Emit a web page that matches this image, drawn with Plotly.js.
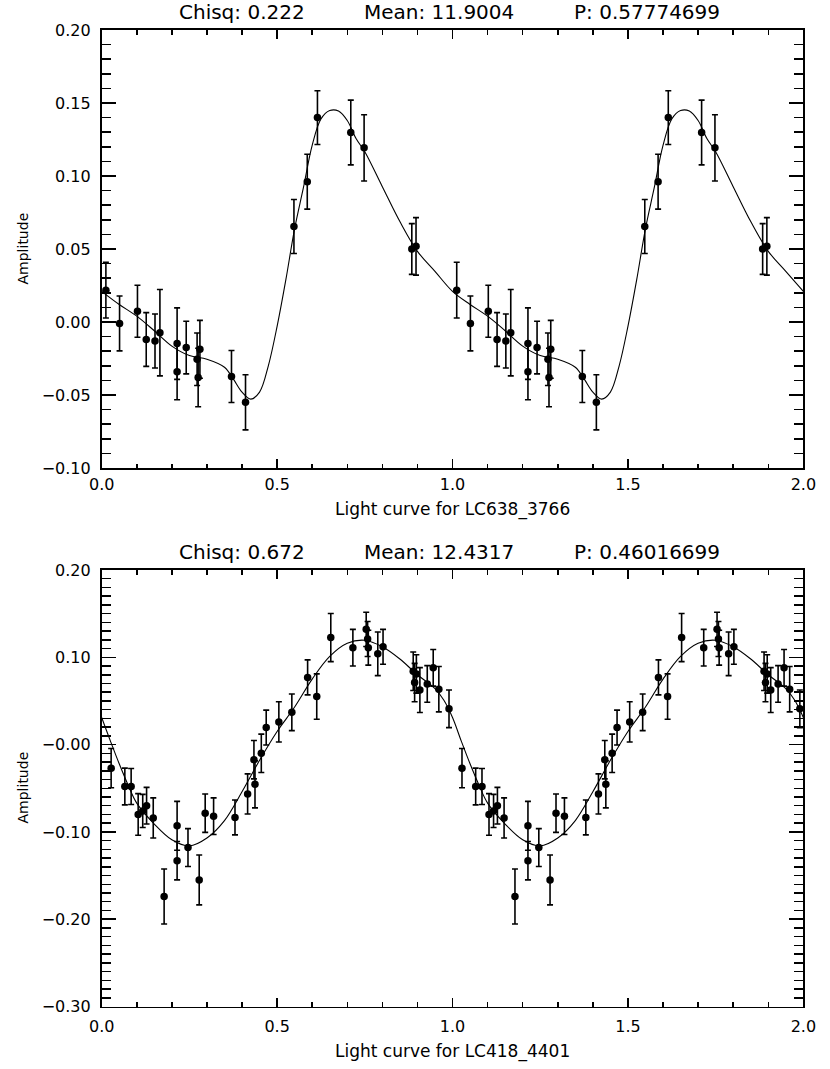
<!DOCTYPE html>
<html>
<head>
<meta charset="utf-8">
<script src="https://cdn.plot.ly/plotly-3.0.1.min.js"></script>
<style>html,body{margin:0;padding:0;background:#fff}#chart{width:830px;height:1069px}</style>
</head>
<body>
<div id="chart"></div>
<script>
// ---------- Top panel: LC638_3766 ----------
const topTitles = ["Chisq: 0.222", "Mean: 11.9004", "P: 0.57774699"];
const topXTitle = "Light curve for LC638_3766";
const topPhase = [0.012, 0.051, 0.102, 0.127, 0.152, 0.166, 0.215, 0.215, 0.241, 0.272, 0.280, 0.275, 0.370, 0.410, 0.548, 0.586, 0.615, 0.710, 0.748, 0.884, 0.896];
const topAmp   = [0.0218, -0.0010, 0.0074, -0.0120, -0.0130, -0.0073, -0.0148, -0.0340, -0.0175, -0.0255, -0.0187, -0.0380, -0.0373, -0.0550, 0.0654, 0.0961, 0.1400, 0.1298, 0.1193, 0.0500, 0.0518];
const topErr   = [0.0191, 0.0188, 0.0178, 0.0184, 0.0185, 0.0296, 0.0245, 0.0193, 0.0180, 0.0180, 0.0198, 0.0200, 0.0178, 0.0189, 0.0185, 0.0188, 0.0184, 0.0222, 0.0227, 0.0174, 0.0197];
const topFitX  = [0, 0.05, 0.1, 0.15, 0.2, 0.25, 0.3, 0.35, 0.375, 0.4, 0.425, 0.45, 0.475, 0.5, 0.525, 0.55, 0.575, 0.6, 0.625, 0.65, 0.675, 0.7, 0.725, 0.75, 0.8, 0.85, 0.9, 0.95, 1.0];
const topFitY  = [0.021, 0.012, 0.004, -0.006, -0.0165, -0.023, -0.0255, -0.031, -0.039, -0.048, -0.0528, -0.048, -0.030, -0.003, 0.029, 0.064, 0.092, 0.121, 0.139, 0.1448, 0.1445, 0.138, 0.1257, 0.1166, 0.0927, 0.0688, 0.0484, 0.0347, 0.021];
const topYTicks = [0.20, 0.15, 0.10, 0.05, 0.00, -0.05, -0.10];
const topYText  = ["0.20", "0.15", "0.10", "0.05", "0.00", "\u22120.05", "\u22120.10"];

// ---------- Bottom panel: LC418_4401 ----------
const botTitles = ["Chisq: 0.672", "Mean: 12.4317", "P: 0.46016699"];
const botXTitle = "Light curve for LC418_4401";
const botPhase = [0.027, 0.066, 0.084, 0.104, 0.117, 0.128, 0.147, 0.178, 0.215, 0.215, 0.246, 0.278, 0.295, 0.319, 0.380, 0.416, 0.434, 0.437, 0.455, 0.469, 0.505, 0.542, 0.587, 0.613, 0.653, 0.716, 0.754, 0.758, 0.760, 0.787, 0.802, 0.888, 0.892, 0.897, 0.907, 0.928, 0.945, 0.961, 0.990];
const botAmp   = [-0.027, -0.048, -0.048, -0.080, -0.076, -0.070, -0.084, -0.174, -0.093, -0.133, -0.118, -0.155, -0.0786, -0.082, -0.0834, -0.0565, -0.0173, -0.0455, -0.010, 0.0195, 0.026, 0.037, 0.077, 0.055, 0.1226, 0.111, 0.132, 0.121, 0.111, 0.104, 0.112, 0.084, 0.071, 0.081, 0.0625, 0.0695, 0.088, 0.0635, 0.041];
const botErr   = [0.0225, 0.021, 0.0206, 0.0238, 0.019, 0.021, 0.023, 0.0315, 0.028, 0.022, 0.0217, 0.0286, 0.022, 0.021, 0.020, 0.023, 0.022, 0.027, 0.022, 0.020, 0.023, 0.021, 0.020, 0.026, 0.0276, 0.021, 0.0196, 0.020, 0.020, 0.025, 0.020, 0.022, 0.022, 0.022, 0.0257, 0.021, 0.021, 0.026, 0.0215];
const botFitX  = [0, 0.025, 0.05, 0.075, 0.1, 0.15, 0.2, 0.25, 0.3, 0.35, 0.4, 0.45, 0.5, 0.55, 0.6, 0.65, 0.7, 0.75, 0.8, 0.85, 0.9, 0.95, 0.975, 1.0];
const botFitY  = [0.031, 0.004, -0.022, -0.046, -0.067, -0.091, -0.109, -0.116, -0.107, -0.087, -0.054, -0.018, 0.015, 0.043, 0.075, 0.101, 0.116, 0.1195, 0.112, 0.098, 0.080, 0.064, 0.051, 0.031];
const botYTicks = [0.20, 0.10, 0.00, -0.10, -0.20, -0.30];
const botYText  = ["0.20", "0.10", "\u22120.00", "\u22120.10", "\u22120.20", "\u22120.30"];

const xTicks = [0, 0.5, 1.0, 1.5, 2.0];
const xText  = ["0.0", "0.5", "1.0", "1.5", "2.0"];
const yTitle = "Amplitude";

// phase-folded light curve is shown over two cycles
function twoCycles(arr) { return arr.concat(arr.map(v => v + 1)); }
function twice(arr) { return arr.concat(arr); }
function twoCyclesFit(xs) { return xs.concat(xs.slice(1).map(v => v + 1)); }
function twiceFit(ys) { return ys.concat(ys.slice(1)); }

const FONT = "DejaVu Sans, Arial, sans-serif";

function fitTrace(xs, ys, xa, ya) {
  return {x: twoCyclesFit(xs), y: twiceFit(ys), xaxis: xa, yaxis: ya, mode: "lines",
    line: {color: "black", width: 1.1, shape: "spline", smoothing: 1}, hoverinfo: "skip", showlegend: false};
}
function pointTrace(ph, amp, err, xa, ya) {
  return {x: twoCycles(ph), y: twice(amp), xaxis: xa, yaxis: ya, mode: "markers", type: "scatter",
    marker: {color: "black", size: 7.5, symbol: "circle"},
    error_y: {type: "data", array: twice(err), visible: true, color: "black", thickness: 1.6, width: 3},
    showlegend: false};
}

const data = [
  fitTrace(topFitX, topFitY, "x", "y"),
  pointTrace(topPhase, topAmp, topErr, "x", "y"),
  fitTrace(botFitX, botFitY, "x2", "y2"),
  pointTrace(botPhase, botAmp, botErr, "x2", "y2")
];

function xAxis(anchor, standoff) {
  return {domain: [0.1225, 0.9679], anchor: anchor, range: [0, 2], tickmode: "array",
    tickvals: xTicks, ticktext: xText, ticks: "inside", ticklen: 9, tickwidth: 1.5, tickcolor: "black",
    minor: {tickmode: "linear", tick0: 0, dtick: 0.1, ticks: "inside", ticklen: 4.5, tickwidth: 1.5, tickcolor: "black"},
    showline: true, linewidth: 1.8, linecolor: "black", mirror: "ticks", showgrid: false, zeroline: false,
    ticklabelstandoff: standoff, tickfont: {family: FONT, size: 16, color: "black"}};
}
function yAxis(anchor, dom, rng, vals, text) {
  return {domain: dom, anchor: anchor, range: rng, tickmode: "array", tickvals: vals, ticktext: text,
    ticks: "inside", ticklen: 14, tickwidth: 1.5, tickcolor: "black",
    minor: {tickmode: "linear", tick0: 0, dtick: 0.01, ticks: "inside", ticklen: 9, tickwidth: 1.5, tickcolor: "black"},
    showline: true, linewidth: 1.8, linecolor: "black", mirror: "ticks", showgrid: false, zeroline: false,
    ticklabelstandoff: 6, tickfont: {family: FONT, size: 16, color: "black"}};
}

function ann(text, x, y, size, angle) {
  return {text: text, x: x, y: y, xref: "paper", yref: "paper", xanchor: "center", yanchor: "middle",
    showarrow: false, textangle: angle || 0, borderpad: 0, font: {family: FONT, size: size, color: "black"}};
}
const titleX = [241.5 / 830, 438.5 / 830, 647 / 830];
const annotations = [];
topTitles.forEach((t, i) => annotations.push(ann(t, titleX[i], 1 - 12 / 1069, 20)));
botTitles.forEach((t, i) => annotations.push(ann(t, titleX[i], 1 - 552 / 1069, 20)));
annotations.push(ann(topXTitle, 452 / 830, 1 - 509 / 1069, 17));
annotations.push(ann(botXTitle, 452 / 830, 1 - 1051 / 1069, 17));
annotations.push(ann(yTitle, 22.5 / 830, 1 - 249 / 1069, 14, -90));
annotations.push(ann(yTitle, 22.5 / 830, 1 - 788 / 1069, 14, -90));

const layout = {
  width: 830, height: 1069, margin: {l: 0, r: 0, t: 0, b: 0},
  paper_bgcolor: "white", plot_bgcolor: "white", showlegend: false,
  xaxis: xAxis("y", 1),
  yaxis: yAxis("x", [1 - 468 / 1069, 1 - 30 / 1069], [-0.10, 0.20], topYTicks, topYText),
  xaxis2: xAxis("y2", 4),
  yaxis2: yAxis("x2", [1 - 1006.5 / 1069, 1 - 570 / 1069], [-0.30, 0.20], botYTicks, botYText),
  annotations: annotations
};

Plotly.newPlot("chart", data, layout, {displayModeBar: false, staticPlot: true});
</script>
</body>
</html>
